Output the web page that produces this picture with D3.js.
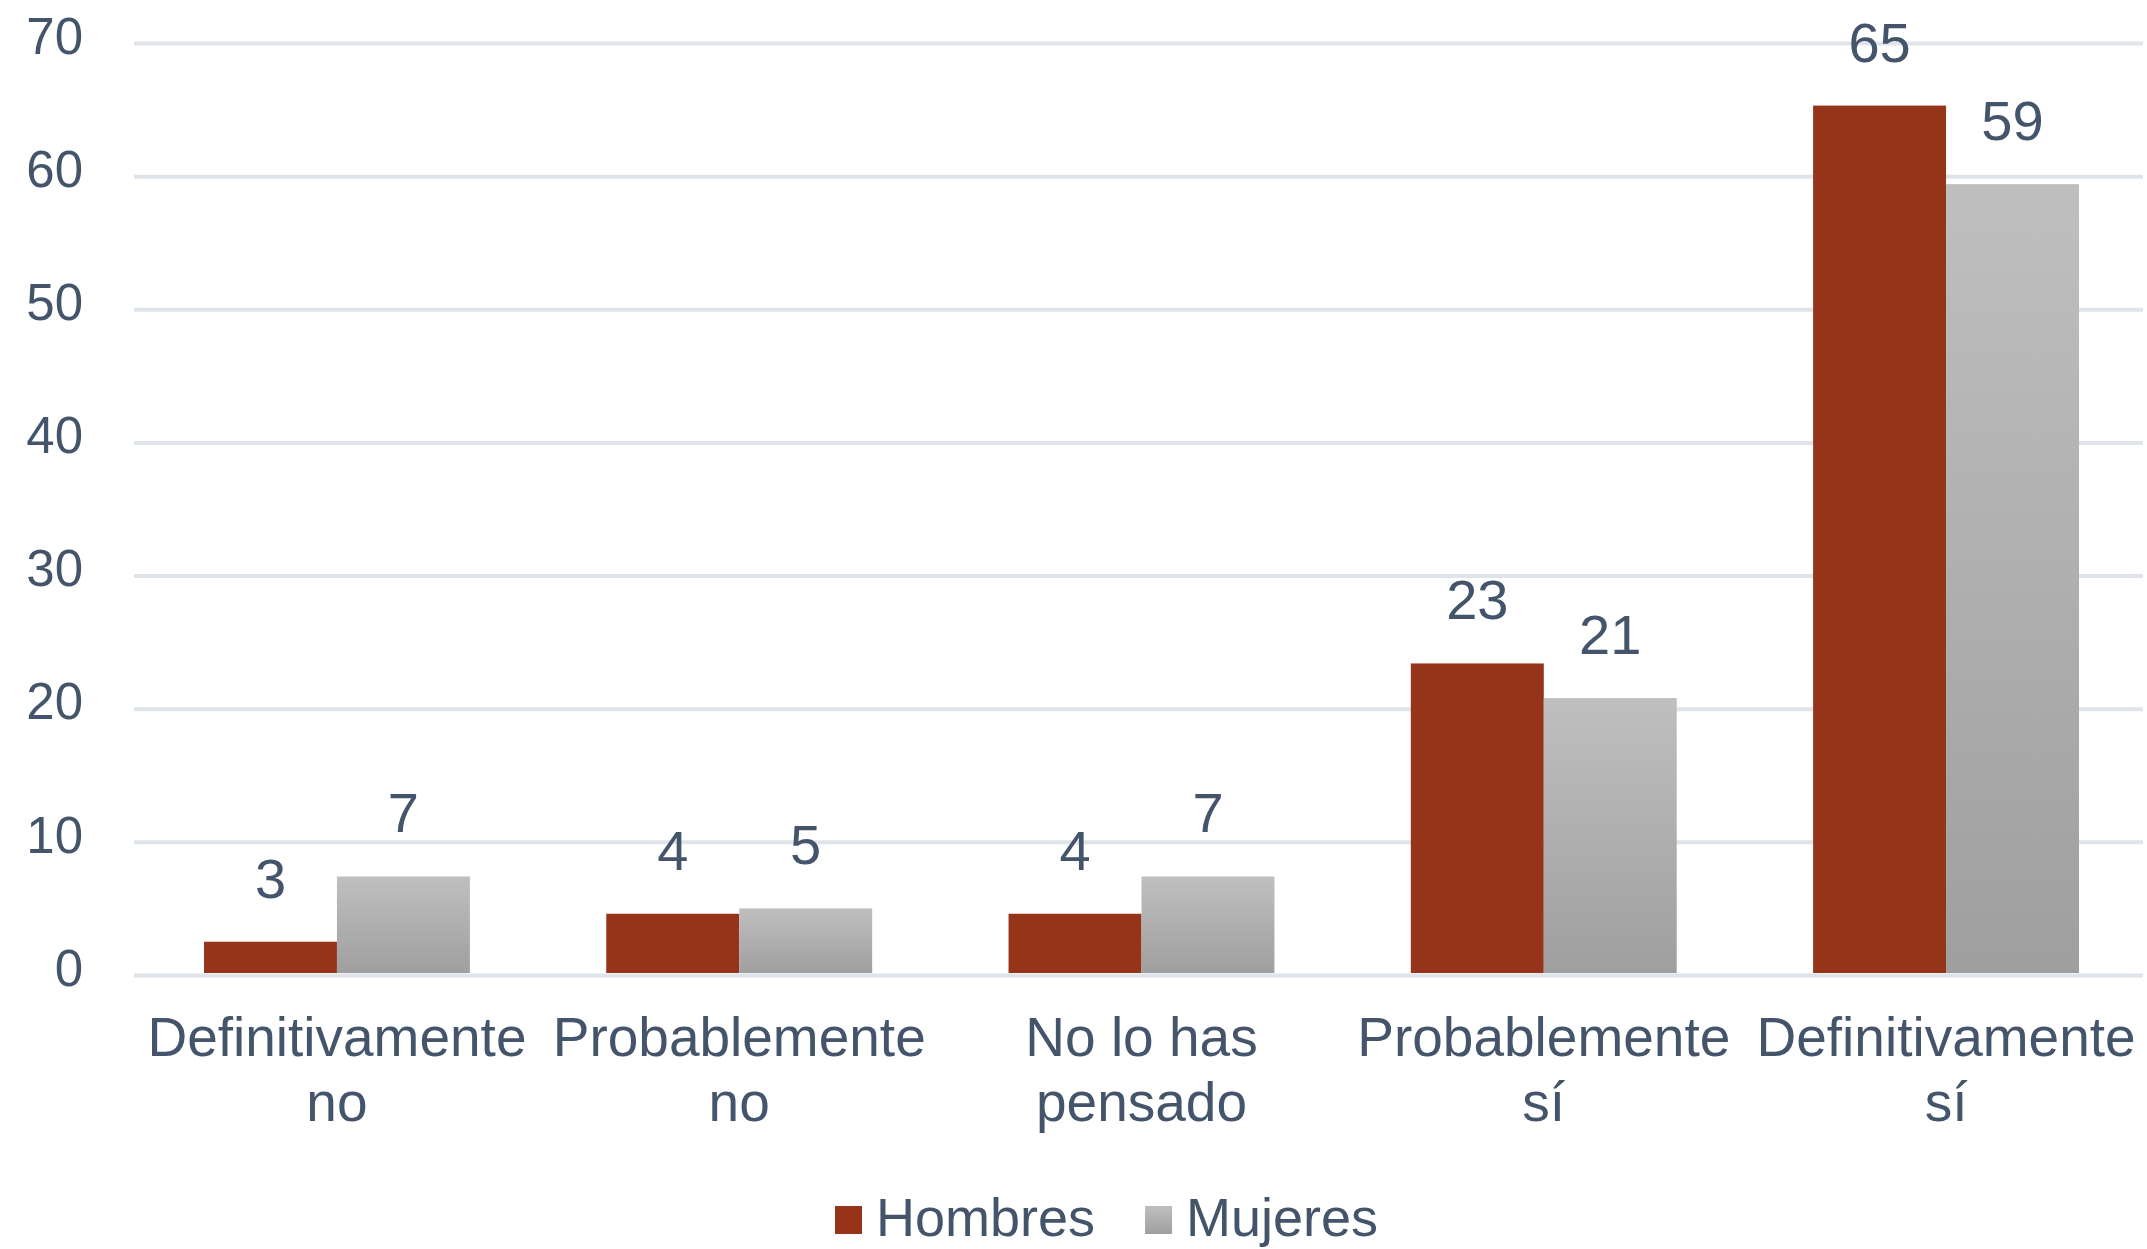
<script src='https://d3js.org/d3.v7.min.js'></script>
<style>
  body { margin: 0; background: #fff; }
  svg text { font-family: "Liberation Sans", Arial, sans-serif; fill: #44546A; }
</style>
<svg id="chart" width="2147" height="1249"></svg>
<script>
  // categories (two-line labels) and series
  const categories = ["Definitivamente no", "Probablemente no", "No lo has pensado", "Probablemente sí", "Definitivamente sí"]
  const catLines = [["Definitivamente", "no"], ["Probablemente", "no"], ["No lo has", "pensado"], ["Probablemente", "sí"], ["Definitivamente", "sí"]]
  const series = ["Hombres", "Mujeres"]
  const hombres = [2.5, 4.6, 4.6, 23.4, 65.3]
  const mujeres = [7.4, 5.0, 7.4, 20.8, 59.4]
  const hombresLabels = ["3", "4", "4", "23", "65"]
  const mujeresLabels = ["7", "5", "7", "21", "59"]
  const yTicks = [0, 10, 20, 30, 40, 50, 60, 70]

  const svg = d3.select("#chart")
  const plot = { left: 134, right: 2143, top: 43, bottom: 975 }

  const x0 = d3.scaleBand().domain(categories).range([plot.left, 2149]).paddingInner(0.339).paddingOuter(0.174)
  const x1 = d3.scaleBand().domain(series).range([0, x0.bandwidth()])
  const y = d3.scaleLinear().domain([0, 70]).range([plot.bottom, plot.top])

  const defs = svg.append("defs")
  const grad = defs.append("linearGradient").attr("id", "greyGrad").attr("x1", 0).attr("y1", 0).attr("x2", 0).attr("y2", 1)
  grad.append("stop").attr("offset", "0%").attr("stop-color", "#bfbfbf")
  grad.append("stop").attr("offset", "100%").attr("stop-color", "#9f9f9f")
  const fills = { Hombres: "#953419", Mujeres: "url(#greyGrad)" }

  // y axis with gridlines
  const yAxis = svg.append("g")
    .attr("transform", "translate(" + plot.left + ",0)")
    .call(d3.axisLeft(y).tickValues(yTicks).tickSize(-(plot.right - plot.left)).tickPadding(51).tickFormat(d3.format("d")))
  yAxis.select(".domain").remove()
  yAxis.selectAll(".tick line").attr("stroke", "#dfe3ea").attr("stroke-width", 4)
  yAxis.selectAll(".tick text").attr("font-size", 51).attr("dy", "0.2em").style("fill", "#44546A")

  const rows = categories.map((c, i) => ({ cat: c, lines: catLines[i], vals: [
    { s: "Hombres", v: hombres[i], label: hombresLabels[i] },
    { s: "Mujeres", v: mujeres[i], label: mujeresLabels[i] }
  ]}))

  const groups = svg.append("g").selectAll("g").data(rows).join("g")
    .attr("transform", d => "translate(" + x0(d.cat) + ",0)")

  groups.selectAll("rect").data(d => d.vals).join("rect")
    .attr("x", d => x1(d.s))
    .attr("width", x1.bandwidth())
    .attr("y", d => y(d.v))
    .attr("height", d => y(0) - 2 - y(d.v))
    .attr("fill", d => fills[d.s])

  groups.selectAll("text.val").data(d => d.vals).join("text")
    .attr("class", "val")
    .attr("x", d => x1(d.s) + x1.bandwidth() / 2)
    .attr("y", d => y(d.v) - 44)
    .attr("text-anchor", "middle")
    .attr("font-size", 56)
    .text(d => d.label)

  // category labels
  groups.each(function(d) {
    const t = d3.select(this).append("text")
      .attr("text-anchor", "middle")
      .attr("font-size", 55)
    d.lines.forEach((l, j) => {
      t.append("tspan").attr("x", x0.bandwidth() / 2).attr("y", 1056 + j * 65).text(l)
    })
  })

  // legend
  const legend = svg.append("g").attr("transform", "translate(835,0)")
  let lx = 0
  series.forEach(s => {
    legend.append("rect").attr("x", lx).attr("y", 1206).attr("width", 27).attr("height", 28).attr("fill", fills[s])
    const t = legend.append("text").attr("x", lx + 41).attr("y", 1236).attr("font-size", 54).text(s)
    lx += 41 + t.node().getComputedTextLength() + 50
  })
</script>
